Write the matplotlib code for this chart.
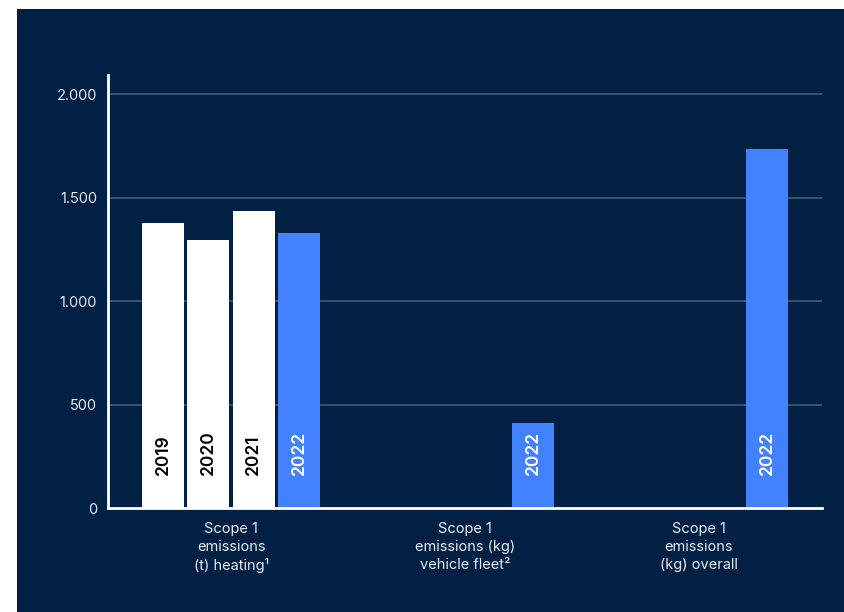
import matplotlib
matplotlib.use("Agg")
import matplotlib.pyplot as plt
from matplotlib.patches import Rectangle

categories = ["Scope 1\nemissions\n(t) heating¹", "Scope 1\nemissions (kg)\nvehicle fleet²", "Scope 1\nemissions\n(kg) overall"]
years = ["2019", "2020", "2021", "2022"]
heating = [1377, 1295, 1435, 1328]
vehicle_2022 = 411
overall_2022 = 1734
yticks = [0, 500, 1000, 1500, 2000]
ytick_labels = ["0", "500", "1.000", "1.500", "2.000"]

NAVY = "#012043"
BLUE = "#4281FF"
WHITE = "#FFFFFF"
GRID = "#4B5F78"

plt.rcParams['font.family'] = ['Inter', 'DejaVu Sans']

W, H = 845, 612
fig = plt.figure(figsize=(W / 100, H / 100), dpi=100)
fig.patch.set_facecolor("white")
bg = Rectangle((17 / W, 0), 1 - 17 / W, 1 - 9 / H, transform=fig.transFigure,
               facecolor=NAVY, edgecolor="none", zorder=-10)
fig.patches.append(bg)

ax = fig.add_axes([108 / W, (H - 508) / H, (822 - 108) / W, (508 - 75) / H])
ax.set_zorder(1)
ax.set_facecolor("none")

width = 0.18
pitch = 0.1937
offsets = [(i - 1.5) * pitch for i in range(4)]

LBL = dict(rotation=90, ha="center", va="bottom", fontsize=12.5, fontweight="semibold", zorder=4)

for i, (yr, v) in enumerate(zip(years, heating)):
    color = BLUE if yr == "2022" else WHITE
    tcolor = WHITE if yr == "2022" else "black"
    ax.bar(0 + offsets[i], v, width=width, color=color, zorder=3)
    ax.text(0 + offsets[i], 160, yr, color=tcolor, **LBL)

for x, v in [(1, vehicle_2022), (2, overall_2022)]:
    ax.bar(x + offsets[3], v, width=width, color=BLUE, zorder=3)
    ax.text(x + offsets[3], 160, "2022", color=WHITE, **LBL)

ax.set_xlim(-0.526, 2.526)
ax.set_ylim(0, 2092)
ax.set_yticks(yticks)
ax.set_yticklabels(ytick_labels)
ax.set_xticks([0, 1, 2])
ax.set_xticklabels(categories, linespacing=1.35)
ax.tick_params(axis="both", length=0, colors=WHITE, labelsize=10.5)
ax.tick_params(axis="y", pad=8)
ax.tick_params(axis="x", pad=10)
for t in ax.get_yticklabels() + ax.get_xticklabels():
    t.set_color("#E6EAF0")

for y in yticks[1:]:
    ax.axhline(y, color=GRID, linewidth=1.1, zorder=1)

for s in ["top", "right"]:
    ax.spines[s].set_visible(False)
ax.spines["left"].set_color(WHITE)
ax.spines["bottom"].set_color(WHITE)
ax.spines["left"].set_linewidth(2)
ax.spines["bottom"].set_linewidth(2)
ax.spines["left"].set_zorder(5)
ax.spines["bottom"].set_zorder(5)

fig.savefig("out.png", dpi=100, facecolor=fig.get_facecolor())
